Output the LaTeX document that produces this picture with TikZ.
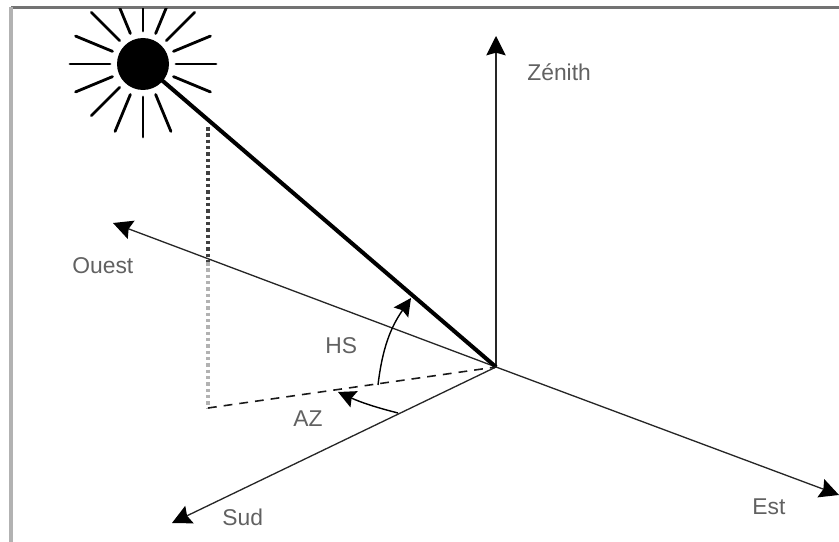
\documentclass[tikz,border=0pt]{standalone}
\usepackage{fontspec}
\setmainfont{Liberation Sans}
\usetikzlibrary{arrows.meta,calc}
\tikzset{
  axe/.style={draw=black!85,line width=0.75pt,-{Stealth[length=11pt,width=11pt,inset=1.5pt,color=black]}},
  angle/.style={draw=black,line width=0.8pt,-{Stealth[length=10pt,width=10pt,inset=1.5pt]}},
  rayon/.style={draw=black,line width=1.6pt,line cap=round},
  label/.style={text=black!62,inner sep=0pt,font=\fontsize{13}{15}\selectfont},
  pointille/.style={line width=2pt,dash pattern=on 2pt off 1.6pt},
}
\begin{document}
\begin{tikzpicture}[x=0.2mm,y=-0.2mm]
\useasboundingbox (0,0) rectangle (839,542);
% cadre
\draw[black!55,line width=1.6pt] (11,7.5) -- (839,7.5);
\draw[black!30,line width=1.8pt] (11,7) -- (11,542);
% soleil (y vers le bas : 45 = le faisceau)
\coordinate (soleil) at (143,64);
\coordinate (origine) at (496,367);
\begin{scope}
\clip (13,9) rectangle (839,200);
\foreach \a in {0,22.5,67.5,90,112.5,135,157.5,180,202.5,225,247.5,270,292.5,315,337.5}
  \draw[rayon] ($(soleil)+(\a:33)$) -- ($(soleil)+(\a:73)$);
\end{scope}
\fill[black] (soleil) circle (26);
% axes
\coordinate (zenith) at (496,36);
\coordinate (ouest) at (113,223);
\coordinate (est) at (839,495);
\coordinate (sud) at (172,523);
\draw[axe] (origine) -- (zenith);
\draw[axe] (origine) -- (ouest);
\draw[axe] (origine) -- (est);
\draw[axe] (origine) -- (sud);
\draw[black,line width=2.3pt] (soleil) -- (origine);
% projection
\coordinate (haut) at (208,127);
\coordinate (croise) at (208,262);
\coordinate (pied) at (208,408);
\draw[black!75,pointille] (haut) -- (croise);
\draw[black!30,pointille] (croise) -- (pied);
\draw[black!90,line width=0.9pt,dash pattern=on 5pt off 4pt] (pied) -- (origine);
% angles
\coordinate (hsa) at (378,385);
\coordinate (hsb) at (411,298);
\coordinate (aza) at (398,413);
\coordinate (azb) at (338,392);
\draw[angle] (hsa) to[bend left=14] (hsb);
\draw[angle] (aza) to[bend left=5] (azb);
% textes
\node[label,anchor=west] (zen) at (527,72) {Zénith};
\node[label,anchor=west] (oue) at (72,266) {Ouest};
\node[label,anchor=west] (hs) at (325,346) {HS};
\node[label,anchor=west] (az) at (293,419) {AZ};
\node[label,anchor=west] (sd) at (222,517) {Sud};
\node[label,anchor=west] (es) at (752,507) {Est};
\end{tikzpicture}
\end{document}
